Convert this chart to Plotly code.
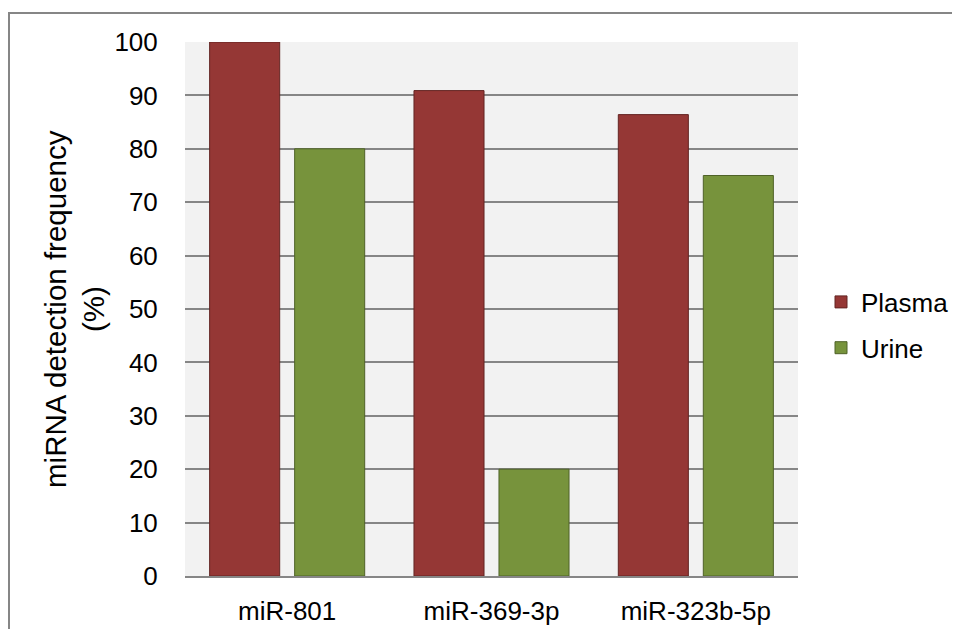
import plotly.graph_objects as go

categories = ["miR-801", "miR-369-3p", "miR-323b-5p"]
plasma = [100, 90.9, 86.4]
urine = [80, 20, 75]
y_ticks = [0, 10, 20, 30, 40, 50, 60, 70, 80, 90, 100]
y_title_lines = ["miRNA detection frequency", "(%)"]

# page body adds an 8px offset, so the figure is drawn 8px smaller
W, H = 952, 621
L, R, T, B = 177, 162, 34, 53
pw, ph = W - L - R, H - T - B

font = "Liberation Sans, Arial, sans-serif"

fig = go.Figure()
fig.add_trace(go.Bar(name="Plasma", x=categories, y=plasma, legendgroup="p",
                     marker=dict(color="#953735", line=dict(color="#632523", width=1))))
fig.add_trace(go.Bar(name="Urine", x=categories, y=urine, legendgroup="u",
                     marker=dict(color="#77933C", line=dict(color="#4F6228", width=1))))

title_x_px = [47, 85]
annotations = [
    dict(text=t, xref="paper", yref="paper", x=(px - L) / pw, y=0.5,
         xanchor="center", yanchor="middle", textangle=-90, showarrow=False,
         font=dict(size=29.5, family=font, color="black"))
    for t, px in zip(y_title_lines, title_x_px)
]

fig.update_layout(
    width=W, height=H,
    margin=dict(l=L, r=R, t=T, b=B, autoexpand=False),
    paper_bgcolor="white", plot_bgcolor="#F2F2F2",
    font=dict(family=font, size=26, color="black"),
    barmode="group", bargap=0.168, bargroupgap=0.176,
    showlegend=True,
    legend=dict(x=(813 - L) / pw, xanchor="left", y=(568 - 317) / ph, yanchor="middle",
                font=dict(size=26), tracegroupgap=9, bgcolor="rgba(0,0,0,0)",
                itemclick=False),
    xaxis=dict(showgrid=False, showline=True, linecolor="#868686", linewidth=1.5,
               ticks="outside", ticklen=11, tickcolor="rgba(0,0,0,0)",
               tickfont=dict(size=26), automargin=False),
    yaxis=dict(range=[0, 100], tickvals=y_ticks, showgrid=True, gridcolor="#868686",
               gridwidth=1.5, zeroline=False, showline=False,
               ticks="outside", ticklen=21, tickcolor="rgba(0,0,0,0)",
               tickfont=dict(size=26), automargin=False),
    annotations=annotations,
    shapes=[dict(type="rect", xref="paper", yref="paper",
                 x0=(1 - L) / pw, x1=1.6, y0=-0.6, y1=(568 - 5) / ph,
                 line=dict(color="#868686", width=2), fillcolor="rgba(0,0,0,0)",
                 layer="below")],
)

fig.write_html("out.html")
